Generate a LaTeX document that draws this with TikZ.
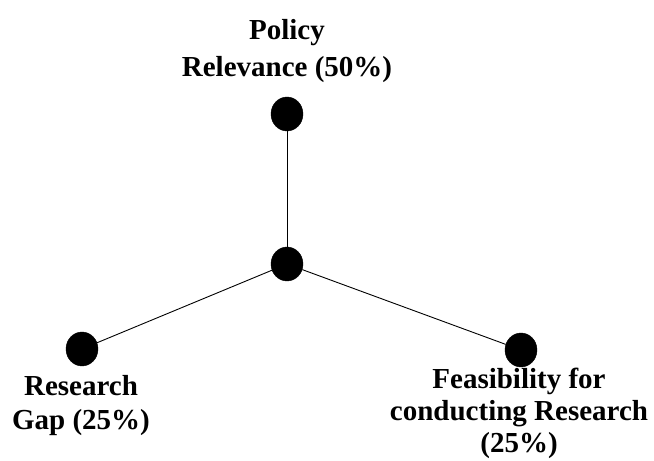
\documentclass[tikz,border=0pt]{standalone}
\usepackage{fontspec}
\setmainfont{Liberation Serif}
\usetikzlibrary{shapes.geometric,positioning}

\begin{document}
\begin{tikzpicture}[
  x=1pt,y=1pt,
  dot/.style={ellipse,fill=black,draw=black,minimum width=32pt,minimum height=34pt,inner sep=0pt},
  lbl/.style={align=center,inner sep=0pt,font=\bfseries\fontsize{29}{34}\selectfont},
  edge/.style={draw=black,line width=0.9pt}
]
\useasboundingbox (0,0) rectangle (654,461);
% Dots
\node[dot] (policydot)   at (287,347) {};
\node[dot] (hub)         at (287,197) {};
\node[dot] (gapdot)      at (82,112)  {};
\node[dot] (feasdot)     at (521,111) {};

% Labels
\node[lbl,font=\bfseries\fontsize{29}{37}\selectfont,above=14pt of policydot] (policy) {Policy\\Relevance (50\%)};
\node[lbl,below=9pt of gapdot,xshift=-1pt] (gap) {Research\\Gap (25\%)};
\node[lbl,font=\bfseries\fontsize{29}{32}\selectfont,below=1pt of feasdot,xshift=-2pt] (feas) {Feasibility for\\conducting Research\\(25\%)};

% Edges
\draw[edge] (hub) -- (policydot);
\draw[edge] (hub) -- (gapdot);
\draw[edge] (hub) -- (feasdot);
\end{tikzpicture}
\end{document}
